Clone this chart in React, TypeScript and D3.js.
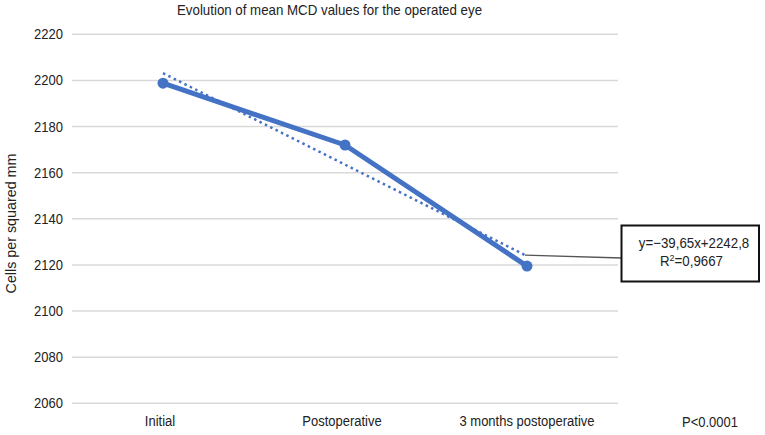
import React from "react";
import * as d3 from "d3";

const categories = ["Initial", "Postoperative", "3 months postoperative"];
const meanValues = [2198.8, 2172, 2119.5];
const trendSlope = -39.65;
const trendIntercept = 2242.8;
const yTicks = [2060, 2080, 2100, 2120, 2140, 2160, 2180, 2200, 2220];
const titleText = "Evolution of mean MCD values for the operated eye";
const yLabel = "Cells per squared mm";
const equationText = "y=\u221239,65x+2242,8";
const r2Value = "=0,9667";
const pText = "P<0.0001";

const W = 765;
const H = 435;
const left = 72;
const right = 618;
const top = 34.3;
const bottom = 403.3;
const blue = "#4472C4";
const font = "'Liberation Sans', Arial, sans-serif";

export default function App() {
  const x = d3.scaleBand<string>().domain(categories).range([left, right]);
  const cx = (c: string) => (x(c) as number) + x.bandwidth() / 2;
  const y = d3.scaleLinear().domain([2060, 2220]).range([bottom, top]);

  const pts = categories.map((c, i) => [cx(c), y(meanValues[i])] as [number, number]);
  const lineGen = d3.line<[number, number]>();
  const trendPts = categories.map((c, i) => [cx(c), y(trendSlope * (i + 1) + trendIntercept)] as [number, number]);

  const lastTrend = trendPts[trendPts.length - 1];
  const boxX = 621.5;
  const boxY = 225.5;
  const boxW = 137.5;
  const boxH = 56;

  const labelX = [160, 342, 527];

  return (
    <svg width={W} height={H} style={{ position: "absolute", left: 0, top: 0, background: "#fff" }} fontFamily={font}>
      <rect x={0} y={0} width={W} height={H} fill="#fff" />
      <text transform="translate(329.5,15) scale(1,1.08)" textAnchor="middle" fontSize={13.3} fill="#222">{titleText}</text>
      {yTicks.map((t) => (
        <g key={t}>
          <line x1={left} x2={right} y1={y(t)} y2={y(t)} stroke="#d9d9d9" strokeWidth={1.5} />
          <text transform={`translate(63,${y(t) + 5}) scale(1,1.1)`} textAnchor="end" fontSize={13} fill="#222">{t}</text>
        </g>
      ))}
      <text transform={`translate(16,223.5) rotate(-90) scale(1,1.08)`} textAnchor="middle" fontSize={14.3} fill="#222">{yLabel}</text>
      {categories.map((c, i) => (
        <text key={c} transform={`translate(${labelX[i]},426) scale(1,1.12)`} textAnchor="middle" fontSize={13} fill="#222">{c}</text>
      ))}
      <text transform="translate(710,427) scale(1,1.12)" textAnchor="middle" fontSize={13} fill="#222">{pText}</text>
      <path d={lineGen(pts) || ""} fill="none" stroke={blue} strokeWidth={5} strokeLinejoin="round" />
      {pts.map((p, i) => (
        <circle key={i} cx={p[0]} cy={p[1]} r={5.5} fill={blue} />
      ))}
      <path d={lineGen(trendPts) || ""} fill="none" stroke={blue} strokeWidth={2.5} strokeDasharray="2.5,3.5" />
      <line x1={lastTrend[0] - 2} x2={boxX} y1={lastTrend[1] - 1} y2={258} stroke="#555" strokeWidth={1.3} />
      <rect x={boxX} y={boxY} width={boxW} height={boxH} fill="#fff" stroke="#111" strokeWidth={2} />
      <text transform={`translate(${boxX + 72.5},248) scale(1,1.1)`} textAnchor="middle" fontSize={13.3} fill="#222">{equationText}</text>
      <text transform={`translate(${boxX + 70},266) scale(1,1.1)`} textAnchor="middle" fontSize={13.3} fill="#222">
        R<tspan dy={-5} fontSize={9}>2</tspan><tspan dy={5}>{r2Value}</tspan>
      </text>
    </svg>
  );
}
